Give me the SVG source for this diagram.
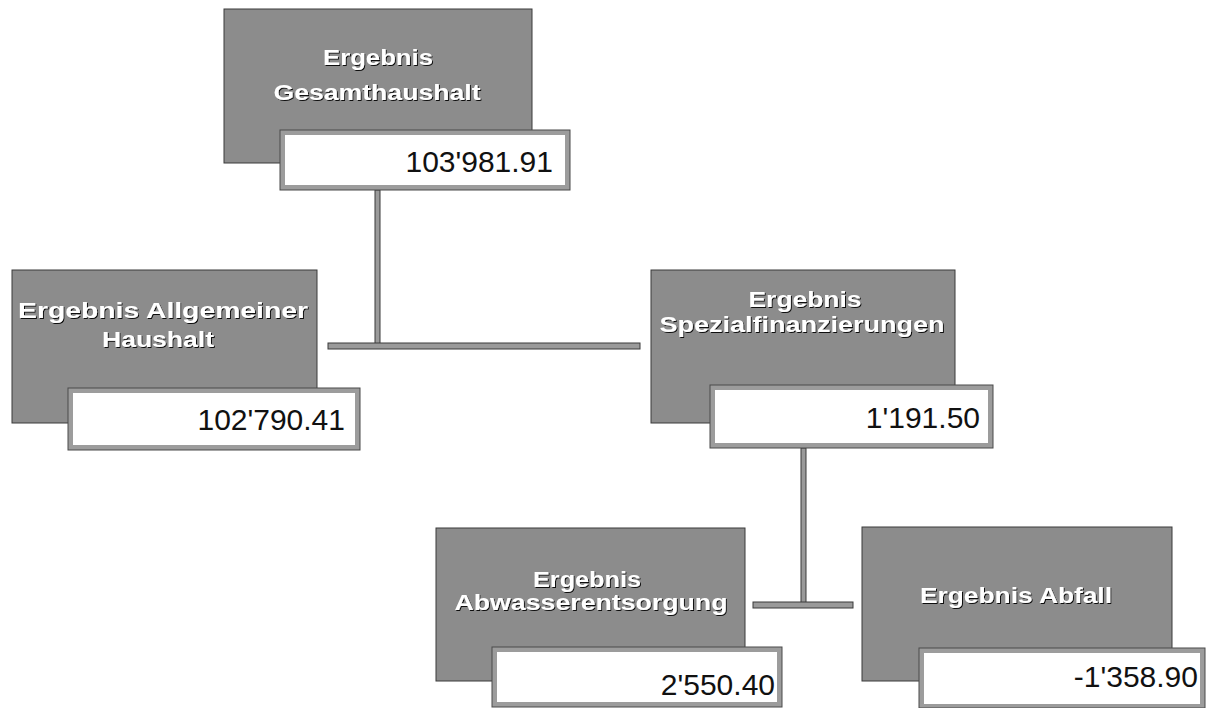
<svg xmlns="http://www.w3.org/2000/svg" width="1206" height="708" viewBox="0 0 1206 708">
<defs>
<style>
.box{fill:#8c8c8c;stroke:#3a3a3a;stroke-width:1}
.val{fill:#ffffff;stroke:#9c9c9c;stroke-width:5}
.valo{fill:none;stroke:#4a4a4a;stroke-width:1}
.t{font-family:"Liberation Sans",Arial,sans-serif;font-weight:bold;font-size:22px;fill:#ffffff;text-anchor:middle;filter:url(#sh)}
.v{font-family:"Liberation Sans",Arial,sans-serif;font-size:30px;fill:#111111;text-anchor:end}
.bar{fill:#9a9a9a;stroke:#3a3a3a;stroke-width:1}
</style>
<filter id="sh" x="-10%" y="-30%" width="120%" height="160%">
<feDropShadow dx="1" dy="1" stdDeviation="0.7" flood-color="#000000" flood-opacity="0.9"/>
</filter>
</defs>
<g id="connectors">
<rect class="bar" x="375" y="190" width="5" height="155"/>
<rect class="bar" x="328" y="343" width="312" height="6"/>
<rect class="bar" x="801" y="448" width="5" height="155"/>
<rect class="bar" x="753" y="602" width="100" height="6"/>
</g>
<g id="node-gesamthaushalt">
<rect class="box" x="224" y="9" width="308" height="154"/>
<rect class="val" x="282.5" y="132.5" width="285" height="55"/>
<rect class="valo" x="280" y="130" width="290" height="60"/>
<text class="t" x="378" y="65" textLength="110" lengthAdjust="spacingAndGlyphs">Ergebnis</text>
<text class="t" x="377" y="100" textLength="207" lengthAdjust="spacingAndGlyphs">Gesamthaushalt</text>
<text class="v" x="553" y="172" font-size="31">103'981.91</text>
</g>
<g id="node-allgemeiner">
<rect class="box" x="12" y="270" width="305" height="153"/>
<rect class="val" x="70.5" y="390.5" width="287" height="57"/>
<rect class="valo" x="68" y="388" width="292" height="62"/>
<text class="t" x="163" y="318" textLength="290" lengthAdjust="spacingAndGlyphs">Ergebnis Allgemeiner</text>
<text class="t" x="158" y="347" textLength="112" lengthAdjust="spacingAndGlyphs">Haushalt</text>
<text class="v" x="345" y="430" font-size="32">102'790.41</text>
</g>
<g id="node-spezialfinanzierungen">
<rect class="box" x="651" y="270" width="304" height="153"/>
<rect class="val" x="712.5" y="387.5" width="278" height="58"/>
<rect class="valo" x="710" y="385" width="283" height="63"/>
<text class="t" x="805" y="307" textLength="113" lengthAdjust="spacingAndGlyphs">Ergebnis</text>
<text class="t" x="802" y="332" textLength="285" lengthAdjust="spacingAndGlyphs">Spezialfinanzierungen</text>
<text class="v" x="980" y="428" font-size="27">1'191.50</text>
</g>
<g id="node-abwasser">
<rect class="box" x="436" y="528" width="309" height="153"/>
<rect class="val" x="494.5" y="649.5" width="285" height="55"/>
<rect class="valo" x="492" y="647" width="290" height="60"/>
<text class="t" x="587" y="587" textLength="108" lengthAdjust="spacingAndGlyphs">Ergebnis</text>
<text class="t" x="591" y="610" textLength="273" lengthAdjust="spacingAndGlyphs">Abwasserentsorgung</text>
<text class="v" x="775" y="695" font-size="25">2'550.40</text>
</g>
<g id="node-abfall">
<rect class="box" x="862" y="527" width="310" height="154"/>
<rect class="val" x="921.5" y="650.5" width="281" height="56"/>
<rect class="valo" x="919" y="648" width="286" height="60"/>
<text class="t" x="1016" y="603" textLength="192" lengthAdjust="spacingAndGlyphs">Ergebnis Abfall</text>
<text class="v" x="1198" y="687" font-size="31">-1'358.90</text>
</g>
</svg>
